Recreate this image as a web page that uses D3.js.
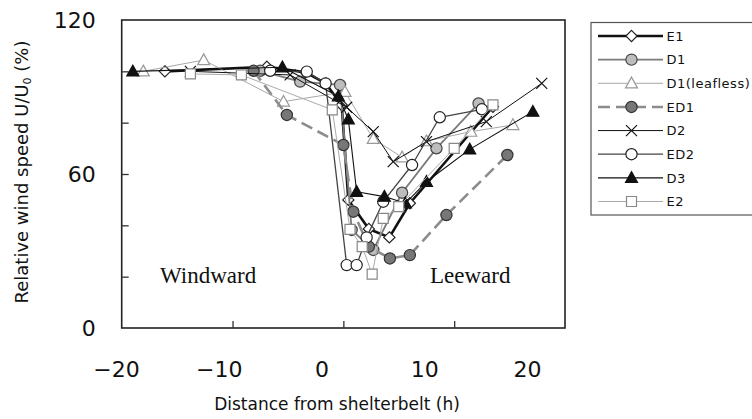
<!DOCTYPE html>
<html><head><meta charset="utf-8">
<script src="https://cdn.jsdelivr.net/npm/d3@7"></script>
<style>body{margin:0;background:#fff}</style>
</head><body><svg id="c" width="752" height="419"></svg>
<script>
// ---- data (x = distance in h, y = relative wind speed %) ----
const seriesNames = ["E1","D1","D1(leafless)","ED1","D2","ED2","D3","E2"];
const E1  = [[-16.1,100],[-6.9,101.8],[-3.4,99.6],[-1.6,95.3],[-0.15,86.9],[0.45,49.9],[2.3,38.6],[4.15,35.3],[6.0,48.6],[13.5,86.2]];
const D1  = [[-7.5,100.2],[-3.9,96],[-0.3,94.7],[0.75,38.2],[2.7,30.4],[5.3,52.7],[8.4,70],[12.2,87.5]];
const D1leafless = [[-18.05,100],[-12.6,104.4],[-5.4,88.2],[0.15,92],[2.7,73.7],[5.3,66.5],[7.5,72.8],[11.5,76.5],[15.3,79.1]];
const ED1 = [[-8.1,100.2],[-5.1,83],[0,71.3],[0.9,45.3],[2.3,31.7],[4.2,27.1],[6.0,28.4],[9.3,44],[14.8,67.4]];
const D2  = [[-13.8,100],[-4.8,98.6],[0.3,86],[2.7,76.5],[4.5,64.8],[7.5,72.6],[12.9,80.4],[17.9,95.3]];
const ED2 = [[-6.6,100.2],[-3.3,99.9],[-1.6,95.3],[0.3,24.5],[1.2,24.5],[2.1,35.3],[3.6,49.2],[6.2,63.5],[8.7,82.1],[12.5,85.2]];
const D3  = [[-19,100],[-5.5,101.6],[-0.45,90.3],[0.45,81.3],[1.2,53.1],[3.7,51.2],[5.6,48.6],[7.5,57],[11.4,69.6],[17.1,84.3]];
const E2  = [[-13.8,99],[-9.2,98.6],[-1.0,85],[0.6,38.4],[1.7,31.7],[2.6,21],[3.6,42.7],[5.0,47.3],[10.0,70],[13.5,86.9]];
const seriesData = [E1, D1, D1leafless, ED1, D2, ED2, D3, E2];
const xTickLabels = [-20,-10,0,10,20];
const xTickMarks = [-10,0,10];
const yTickLabels = [0,60,120];
const yTickMarks = [20,40,60,80,100];

// ---- styles ----
const styles = [
  {stroke:"#111", width:2.6, dash:null, marker:"diamond",  fill:"#fff", mstroke:"#222"},
  {stroke:"#7a7a7a", width:1.8, dash:null, marker:"circle", fill:"#bdbdbd", mstroke:"#444"},
  {stroke:"#a8a8a8", width:1.0, dash:null, marker:"triangle", fill:"#fff", mstroke:"#999"},
  {stroke:"#8c8c8c", width:2.6, dash:"12,6", marker:"circle", fill:"#777", mstroke:"#333"},
  {stroke:"#111", width:1.0, dash:null, marker:"x", fill:"none", mstroke:"#111"},
  {stroke:"#444", width:1.3, dash:null, marker:"circle", fill:"#fff", mstroke:"#222"},
  {stroke:"#111", width:1.1, dash:null, marker:"triangle", fill:"#111", mstroke:"#111"},
  {stroke:"#aaa", width:1.0, dash:null, marker:"square", fill:"#fff", mstroke:"#888"}
];

const svg = d3.select("#c");
const L = 121.7, R = 565, T = 20, B = 328;
const x = d3.scaleLinear().domain([-20,20]).range([L,R]);
const xLab = d3.scaleLinear().domain([-20,20]).range([116,527]);
const y = d3.scaleLinear().domain([0,120]).range([B,T]);

function markerPath(type){
  switch(type){
    case "diamond": return "M0,-5.6L5.6,0L0,5.6L-5.6,0Z";
    case "triangle": return "M0,-6.2L6,4.6L-6,4.6Z";
    case "square": return "M-5,-5H5V5H-5Z";
    case "x": return "M-5.5,-5.5L5.5,5.5M-5.5,5.5L5.5,-5.5";
    default: return d3.symbol(d3.symbolCircle, Math.PI*5.6*5.6)();
  }
}

// frame
svg.append("rect").attr("x",L).attr("y",T).attr("width",R-L).attr("height",B-T)
  .attr("fill","none").attr("stroke","#222").attr("stroke-width",1.6);

// tick marks (inward)
const gxT = svg.append("g").attr("transform",`translate(0,${B})`)
  .call(d3.axisBottom(x).tickValues(xTickMarks).tickSize(-7).tickFormat(""));
gxT.select(".domain").remove();
gxT.selectAll("line").attr("stroke","#333").attr("stroke-width",1.3);
const gyT = svg.append("g").attr("transform",`translate(${L},0)`)
  .call(d3.axisLeft(y).tickValues(yTickMarks).tickSize(-7).tickFormat(""));
gyT.select(".domain").remove();
gyT.selectAll("line").attr("stroke","#333").attr("stroke-width",1.3);

// tick labels
const font = "'DejaVu Sans', sans-serif";
const gxL = svg.append("g").attr("transform",`translate(0,${B})`)
  .call(d3.axisBottom(xLab).tickValues(xTickLabels).tickSize(0).tickPadding(33));
gxL.select(".domain").remove();
gxL.selectAll("text").attr("font-family",font).attr("font-size",22).attr("fill","#111");
const gyL = svg.append("g").attr("transform",`translate(${L},0)`)
  .call(d3.axisLeft(y).tickValues(yTickLabels).tickSize(0).tickPadding(26));
gyL.select(".domain").remove();
gyL.selectAll("text").attr("font-family",font).attr("font-size",22).attr("fill","#111");

// axis titles
svg.append("text").attr("x",337).attr("y",410).attr("text-anchor","middle")
  .attr("font-family",font).attr("font-size",17).attr("fill","#111")
  .text("Distance from shelterbelt (h)");
const yt = svg.append("text").attr("transform","translate(28,172) rotate(-90)")
  .attr("text-anchor","middle").attr("font-family",font).attr("font-size",18).attr("fill","#111");
yt.append("tspan").text("Relative wind speed U/U");
yt.append("tspan").attr("font-size",11).attr("dy",3).text("0");
yt.append("tspan").attr("dy",-3).text(" (%)");

// region labels
svg.append("text").attr("x",160).attr("y",283).attr("font-family","'Liberation Serif', serif")
  .attr("font-size",23).attr("fill","#111").text("Windward");
svg.append("text").attr("x",430).attr("y",283).attr("font-family","'Liberation Serif', serif")
  .attr("font-size",23).attr("fill","#111").text("Leeward");

// series
const line = d3.line().x(d=>x(d[0])).y(d=>y(d[1]));
seriesData.forEach((data,i)=>{
  const s = styles[i];
  const g = svg.append("g");
  g.append("path").datum(data).attr("d",line).attr("fill","none")
    .attr("stroke",s.stroke).attr("stroke-width",s.width)
    .attr("stroke-dasharray",s.dash).attr("stroke-linejoin","round");
  g.selectAll("path.m").data(data).join("path").attr("class","m")
    .attr("d",markerPath(s.marker))
    .attr("transform",d=>`translate(${x(d[0])},${y(d[1])})`)
    .attr("fill",s.fill).attr("stroke",s.mstroke).attr("stroke-width",1.2);
});

// legend
const lg = svg.append("g");
lg.append("rect").attr("x",591).attr("y",22.5).attr("width",175).attr("height",192.5)
  .attr("fill","#fff").attr("stroke","#555").attr("stroke-width",1.2);
const rowY = d3.scalePoint().domain(seriesNames).range([36,201.5]);
seriesNames.forEach((name,i)=>{
  const s = styles[i], yy = rowY(name);
  lg.append("line").attr("x1",598).attr("x2",663).attr("y1",yy).attr("y2",yy)
    .attr("stroke",s.stroke).attr("stroke-width",s.width).attr("stroke-dasharray",s.dash);
  lg.append("path").attr("d",markerPath(s.marker)).attr("transform",`translate(631.5,${yy})`)
    .attr("fill",s.fill).attr("stroke",s.mstroke).attr("stroke-width",1.2);
  lg.append("text").attr("x",666.5).attr("y",yy).attr("dy","0.36em")
    .attr("font-family",font).attr("font-size",13).attr("letter-spacing",0.5)
    .attr("fill","#111").text(name);
});
</script></body></html>
